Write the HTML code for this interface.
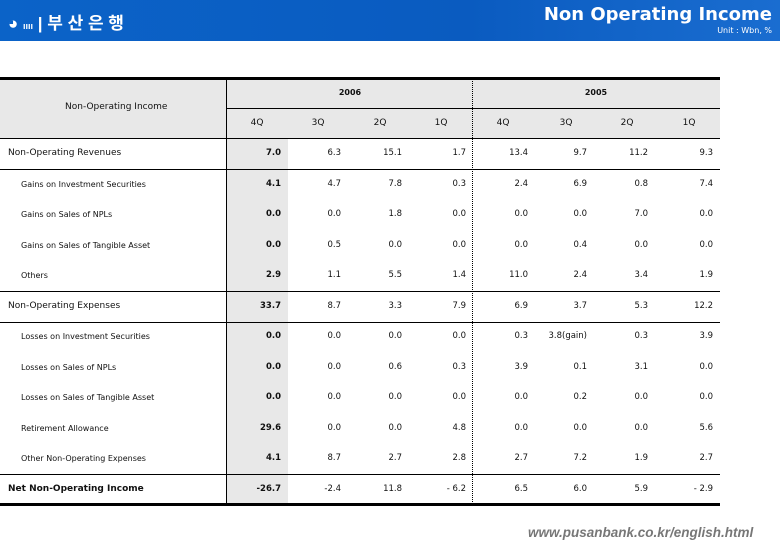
<!DOCTYPE html>
<html><head><meta charset="utf-8">
<style>
body{margin:0;width:780px;height:540px;position:relative;background:#fff;font-family:"DejaVu Sans","Liberation Sans",sans-serif;overflow:hidden}
.t{position:absolute;font-size:9px;color:#111;white-space:nowrap;line-height:11px}
.h{position:absolute;background:#000}
</style></head><body>
<div style="position:absolute;left:0;top:0;width:780px;height:41px;background:linear-gradient(90deg,#0b63c8,#0a5bc0 60%,#1a6dd0)"></div>
<div style="position:absolute;left:8px;top:9px;color:#fff;font-size:17px;font-weight:bold;font-family:'Liberation Sans','Noto Sans CJK KR',sans-serif">◕ <span style="font-size:9px">ıııı</span> | 부 산 은 행</div>
<div style="position:absolute;right:8px;top:4px;color:#fff;font-size:18px;font-weight:bold;font-family:'DejaVu Sans',sans-serif">Non Operating Income</div>
<div style="position:absolute;right:8px;top:26px;color:#fff;font-size:8px">Unit : Wbn, %</div>
<div style="position:absolute;left:0;top:78px;width:720px;height:60px;background:#e8e8e8"></div>
<div style="position:absolute;left:227px;top:138px;width:61px;height:366px;background:#e8e8e8"></div>
<div id="tbl"></div>
<div style="position:absolute;left:528px;top:525px;font-size:13.5px;font-style:italic;font-weight:bold;color:#777;font-family:'Liberation Sans',sans-serif">www.pusanbank.co.kr/english.html</div>
<script>
const quarters=["4Q","3Q","2Q","1Q","4Q","3Q","2Q","1Q"];
const years=["2006","2005"];
const rowLabels=["Non-Operating Revenues","Gains on Investment Securities","Gains on Sales of NPLs","Gains on Sales of Tangible Asset","Others","Non-Operating Expenses","Losses on Investment Securities","Losses on Sales of NPLs","Losses on Sales of Tangible Asset","Retirement Allowance","Other Non-Operating Expenses","Net Non-Operating Income"];
const rowIndent=[0,1,1,1,1,0,1,1,1,1,1,0];
const values=[
["7.0","6.3","15.1","1.7","13.4","9.7","11.2","9.3"],
["4.1","4.7","7.8","0.3","2.4","6.9","0.8","7.4"],
["0.0","0.0","1.8","0.0","0.0","0.0","7.0","0.0"],
["0.0","0.5","0.0","0.0","0.0","0.4","0.0","0.0"],
["2.9","1.1","5.5","1.4","11.0","2.4","3.4","1.9"],
["33.7","8.7","3.3","7.9","6.9","3.7","5.3","12.2"],
["0.0","0.0","0.0","0.0","0.3","3.8(gain)","0.3","3.9"],
["0.0","0.0","0.6","0.3","3.9","0.1","3.1","0.0"],
["0.0","0.0","0.0","0.0","0.0","0.2","0.0","0.0"],
["29.6","0.0","0.0","4.8","0.0","0.0","0.0","5.6"],
["4.1","8.7","2.7","2.8","2.7","7.2","1.9","2.7"],
["-26.7","-2.4","11.8","- 6.2","6.5","6.0","5.9","- 2.9"]];
const T=document.getElementById('tbl');
const colRight=[281,341,402,466,528,587,648,713];
const qCenter=[257,318,380,441,503,566,627,689];
const rowTop=138,rowH=30.5;
function add(cls,css,txt){const d=document.createElement('div');d.className=cls;d.style.cssText=css;if(txt!==undefined)d.textContent=txt;T.appendChild(d);return d;}
let e=add('t','left:65px;top:102px;','Non-Operating Income');


years.forEach((y,i)=>{const el=add('t','left:'+(i?572:326)+'px;top:87px;width:48px;text-align:center;font-weight:bold;font-size:8px',y);

});
quarters.forEach((q,i)=>{const el=add('t','left:'+(qCenter[i]-15)+'px;top:118px;width:30px;text-align:center',q);

});
rowLabels.forEach((l,r)=>{const y=rowTop+r*rowH+10;
const el=add('t','left:'+(rowIndent[r]?21:8)+'px;top:'+y+'px;font-size:'+(rowIndent[r]?8:9)+'px'+(r==11?';font-weight:bold':''),l);


values[r].forEach((v,c)=>{const c2=add('t','left:'+(colRight[c]-60)+'px;top:'+y+'px;width:60px;text-align:right;font-size:8.5px'+(c==0?';font-weight:bold':''),v);

});});
function line(x,y,w,h,n){const el=add('h','left:'+x+'px;top:'+y+'px;width:'+w+'px;height:'+h+'px');

}
line(0,77,720,3,'table-top-border');
line(227,108,493,1,'header-divider');
[138,169,291,322,474].forEach(y=>line(0,y,720,1,'row-divider'));
line(0,503,720,3,'table-bottom-border');
line(226,78,1,427,'label-column-divider');
const d=add('h','left:472px;top:78px;width:0;height:426px;background:none;border-left:1px dotted #000');


</script>
</body></html>
